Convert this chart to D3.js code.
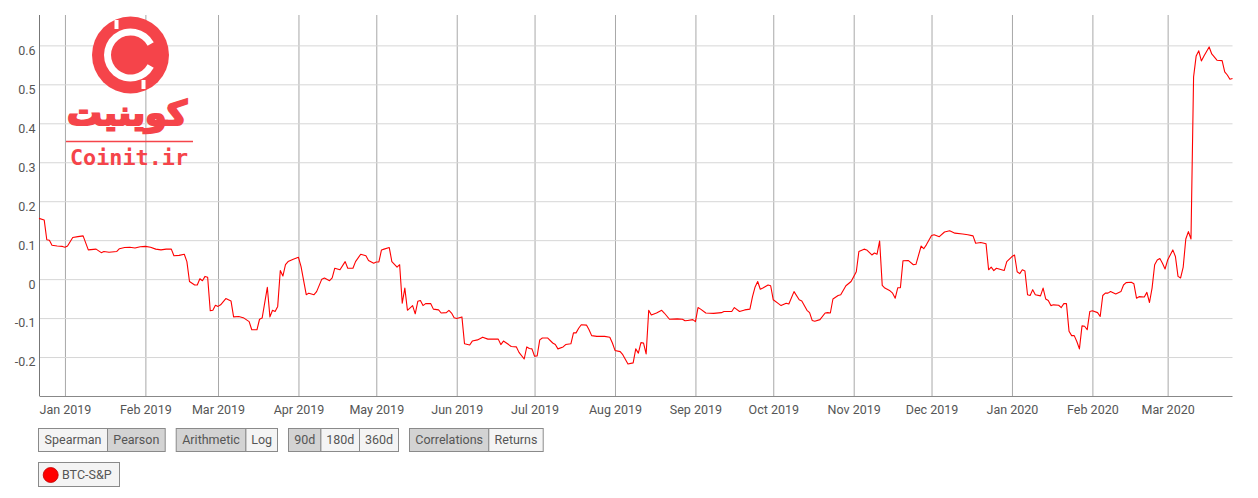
<!DOCTYPE html>
<html>
<head>
<meta charset="utf-8">
<script src="https://cdn.jsdelivr.net/npm/d3@7"></script>
<style>
  html, body { margin: 0; padding: 0; background: #fff; }
  svg { display: block; font-family: Roboto, "Noto Sans", sans-serif; }
</style>
</head>
<body>
<svg id="chart" width="1258" height="498"></svg>
<script>
// ---------- data ----------
const seriesName = "BTC-S&P";
const baseDate = "2019-01-01";
// days since 2019-01-01
const dayOffset = [
  -10,-8,-7,-6,-5,-3,-1,0,1,3,5,7,9,12,14,15,17,20,21,23,25,27,29,31,33,35,37,39,41,42,44,46,47,48,50,51,52,53,54,55,
  56,57,58,59,60,62,64,65,67,69,71,72,74,75,76,78,79,80,81,82,83,84,85,86,88,90,91,93,94,96,97,99,100,102,103,104,106,108,109,111,
  112,114,116,117,119,120,121,122,123,125,126,128,129,130,131,132,134,135,136,137,138,139,141,142,144,145,147,148,149,150,151,153,154,156,157,159,161,163,167,168,
  169,171,172,174,175,177,178,179,180,181,182,183,184,186,188,189,190,192,193,195,196,197,198,199,201,202,203,205,208,210,211,212,214,215,217,219,220,221,222,223,
  224,225,226,228,230,231,233,236,238,239,240,242,243,244,245,247,250,253,254,257,258,260,262,264,265,266,267,268,269,271,272,273,275,276,278,279,281,283,284,286,
  287,288,289,291,293,294,295,296,298,299,301,303,305,306,308,309,311,312,313,314,315,316,318,319,320,321,322,323,325,327,328,330,331,332,334,335,337,339,341,343,
  346,348,350,351,353,355,356,357,358,359,360,362,363,365,366,367,368,369,370,371,372,373,374,376,377,378,379,380,381,383,384,385,386,387,388,389,390,391,392,393,
  394,395,396,398,399,400,401,402,403,405,407,408,409,411,412,413,414,416,417,418,419,420,421,422,423,424,425,427,428,429,430,431,432,433,434,435,436,437,438,439,
  441,442,444,446,447,448,449,450
];
const correlation = [
  0.156,0.152,0.101,0.100,0.087,0.085,0.084,0.082,0.085,0.107,0.109,0.111,0.075,0.077,0.068,0.071,0.069,0.071,0.078,0.081,0.082,0.080,0.083,0.084,0.082,0.077,0.075,0.077,0.077,0.060,0.061,0.064,0.045,-0.006,-0.015,-0.015,0.001,-0.004,0.007,0.005,
  -0.081,-0.080,-0.067,-0.070,-0.066,-0.050,-0.056,-0.097,-0.096,-0.100,-0.109,-0.130,-0.130,-0.103,-0.100,-0.021,-0.097,-0.080,-0.083,-0.070,0.022,0.008,0.037,0.045,0.051,0.056,0.032,-0.040,-0.036,-0.040,-0.032,0.000,0.003,-0.004,0.003,0.028,0.024,0.045,0.028,0.028,
  0.045,0.064,0.060,0.048,0.041,0.044,0.044,0.075,0.077,0.081,0.045,0.031,0.037,-0.062,-0.023,-0.080,-0.068,-0.089,-0.057,-0.055,-0.068,-0.063,-0.063,-0.077,-0.079,-0.087,-0.086,-0.080,-0.087,-0.099,-0.101,-0.097,-0.166,-0.169,-0.159,-0.156,-0.149,-0.154,-0.154,-0.168,
  -0.159,-0.168,-0.173,-0.174,-0.188,-0.205,-0.174,-0.178,-0.179,-0.198,-0.197,-0.156,-0.151,-0.151,-0.164,-0.168,-0.179,-0.174,-0.168,-0.166,-0.138,-0.138,-0.126,-0.117,-0.118,-0.130,-0.145,-0.147,-0.147,-0.149,-0.164,-0.183,-0.186,-0.194,-0.218,-0.215,-0.179,-0.190,-0.163,-0.164,
  -0.192,-0.080,-0.092,-0.087,-0.080,-0.087,-0.103,-0.102,-0.103,-0.107,-0.106,-0.104,-0.109,-0.073,-0.077,-0.087,-0.088,-0.086,-0.083,-0.083,-0.073,-0.083,-0.079,-0.077,-0.045,-0.020,-0.006,-0.026,-0.023,-0.015,-0.017,-0.053,-0.063,-0.068,-0.062,-0.064,-0.032,-0.053,-0.056,-0.080,
  -0.086,-0.106,-0.108,-0.104,-0.087,-0.086,-0.087,-0.051,-0.042,-0.040,-0.017,-0.006,0.019,0.071,0.077,0.075,0.062,0.067,0.064,0.098,-0.016,-0.023,-0.030,-0.036,-0.049,-0.022,-0.022,0.047,0.048,0.037,0.038,0.085,0.078,0.088,0.112,0.114,0.109,0.121,0.124,0.118,
  0.116,0.114,0.111,0.092,0.094,0.091,0.024,0.031,0.022,0.028,0.026,0.022,0.045,0.058,0.062,0.019,0.014,0.024,0.021,-0.040,-0.042,-0.027,-0.040,-0.043,-0.023,-0.051,-0.055,-0.068,-0.066,-0.067,-0.073,-0.063,-0.063,-0.134,-0.145,-0.145,-0.160,-0.179,-0.120,-0.121,
  -0.130,-0.083,-0.081,-0.086,-0.096,-0.042,-0.036,-0.036,-0.032,-0.038,-0.032,-0.015,-0.009,-0.008,-0.012,-0.049,-0.045,-0.046,-0.034,-0.060,-0.023,0.037,0.049,0.053,0.041,0.026,0.049,0.075,0.058,0.007,0.003,0.031,0.103,0.122,0.103,0.519,0.573,0.586,0.560,0.573,
  0.596,0.578,0.562,0.561,0.532,0.524,0.513,0.515
];
const yTicks = [-0.2, -0.1, 0, 0.1, 0.2, 0.3, 0.4, 0.5, 0.6];
const yTickLabels = ["-0.2", "-0.1", "0", "0.1", "0.2", "0.3", "0.4", "0.5", "0.6"];
const xTickDates = ["2019-01-01","2019-02-01","2019-03-01","2019-04-01","2019-05-01","2019-06-01","2019-07-01","2019-08-01",
  "2019-09-01","2019-10-01","2019-11-01","2019-12-01","2020-01-01","2020-02-01","2020-03-01"];
const xTickLabels = ["Jan 2019","Feb 2019","Mar 2019","Apr 2019","May 2019","Jun 2019","Jul 2019","Aug 2019",
  "Sep 2019","Oct 2019","Nov 2019","Dec 2019","Jan 2020","Feb 2020","Mar 2020"];
const buttonGroups = [["Spearman","Pearson"],["Arithmetic","Log"],["90d","180d","360d"],["Correlations","Returns"]];
const selectedButtons = ["Pearson","Arithmetic","90d","Correlations"];

(function draw() {
  const svg = d3.select("#chart");
  const parse = d3.utcParse("%Y-%m-%d");
  const base = parse(baseDate);
  const n = Math.min(dayOffset.length, correlation.length);
  const data = d3.range(n).map(i => ({ date: d3.utcDay.offset(base, dayOffset[i]), value: correlation[i] }));

  const plotL = 39.5, plotR = 1232.5, plotT = 15, plotB = 396;
  const x = d3.scaleUtc().domain(d3.extent(data, d => d.date)).range([plotL - 0.5, plotR]);
  const y = d3.scaleLinear().domain([-0.3, 0.678]).range([plotB, plotT]);

  const textColor = "#555";
  const logoRed = "#f5444a";

  // gridlines
  const xTicks = xTickDates.map(parse);
  svg.append("g").attr("transform", `translate(0,${plotT})`)
    .call(d3.axisBottom(x).tickValues(xTicks).tickSize(plotB - plotT).tickFormat(""))
    .call(g => g.select(".domain").remove())
    .call(g => g.selectAll("line").attr("stroke", "#a8a8a8").attr("stroke-width", 1));

  svg.append("g").attr("transform", `translate(${plotL},0)`)
    .call(d3.axisRight(y).tickValues(yTicks).tickSize(plotR - plotL).tickFormat(""))
    .call(g => g.select(".domain").remove())
    .call(g => g.selectAll("line").attr("stroke", "#d6d6d6").attr("stroke-width", 1));

  // logo watermark
  const logo = svg.append("g").attr("class", "logo");
  const cx = 130.5, cy = 55;
  logo.append("circle").attr("cx", cx).attr("cy", cy).attr("r", 38.5).attr("fill", logoRed);
  logo.append("path")
    .attr("transform", `translate(${cx},${cy})`)
    .attr("d", d3.arc().innerRadius(19.5).outerRadius(26.5)
      .startAngle(Math.PI / 2 + 0.5).endAngle(Math.PI / 2 + 2 * Math.PI - 0.5)())
    .attr("fill", "#fff");
  logo.append("rect").attr("x", cx - 16).attr("y", cy - 35).attr("width", 4).attr("height", 9).attr("fill", "#fff");
  logo.append("rect").attr("x", cx + 11).attr("y", cy + 25).attr("width", 4).attr("height", 9).attr("fill", "#fff");
  logo.append("text").attr("x", 127).attr("y", 125)
    .attr("text-anchor", "middle")
    .attr("font-family", "'DejaVu Sans', sans-serif").attr("font-weight", "bold").attr("font-size", 34)
    .attr("textLength", 120).attr("lengthAdjust", "spacingAndGlyphs")
    .attr("fill", logoRed).attr("stroke", logoRed).attr("stroke-width", 2.2).attr("stroke-linejoin", "miter")
    .text("کوینیت");
  logo.append("line").attr("x1", 66).attr("x2", 193).attr("y1", 141.5).attr("y2", 141.5)
    .attr("stroke", logoRed).attr("stroke-width", 1.5);
  logo.append("text").attr("x", 70).attr("y", 165)
    .attr("font-family", "'DejaVu Sans Mono', monospace").attr("font-weight", "bold").attr("font-size", 22)
    .attr("textLength", 118).attr("lengthAdjust", "spacingAndGlyphs")
    .attr("fill", logoRed).text("Coinit.ir");

  // axes
  svg.append("line").attr("x1", plotL).attr("x2", plotL).attr("y1", plotT).attr("y2", plotB)
    .attr("stroke", "#777").attr("stroke-width", 1);
  svg.append("line").attr("x1", plotL).attr("x2", plotR).attr("y1", plotB + 0.5).attr("y2", plotB + 0.5)
    .attr("stroke", "#888").attr("stroke-width", 1);

  const yAxis = svg.append("g").attr("transform", `translate(${plotL},0)`)
    .call(d3.axisLeft(y).tickValues(yTicks).tickSize(0).tickPadding(4)
      .tickFormat((d, i) => yTickLabels[i]));
  yAxis.select(".domain").remove();
  yAxis.selectAll("text").attr("dy", "0.71em").attr("fill", textColor)
    .attr("font-size", 12.5).attr("font-family", "Roboto, sans-serif");

  const xAxis = svg.append("g").attr("transform", `translate(0,${plotB})`)
    .call(d3.axisBottom(x).tickValues(xTicks).tickSize(0).tickPadding(9)
      .tickFormat((d, i) => xTickLabels[i]));
  xAxis.select(".domain").remove();
  xAxis.selectAll("text").attr("fill", textColor)
    .attr("font-size", 12.5).attr("font-family", "Roboto, sans-serif");

  // series
  svg.append("path").datum(data)
    .attr("fill", "none").attr("stroke", "#ff0000").attr("stroke-width", 1.1)
    .attr("stroke-linejoin", "round")
    .attr("d", d3.line().x(d => x(d.date)).y(d => y(d.value)));

  // buttons (box widths matched to the reference layout)
  const boxWidth = { "Spearman": 69, "Pearson": 57.7, "Arithmetic": 69.7, "Log": 31.6, "90d": 32.4,
    "180d": 38.6, "360d": 39, "Correlations": 79.3, "Returns": 54.4 };
  const btnG = svg.append("g").attr("font-family", "Roboto, sans-serif").attr("font-size", 12.5);
  let bx = 38.5;
  const by = 428.5, bh = 23;
  buttonGroups.forEach(group => {
    group.forEach(label => {
      const w = boxWidth[label];
      btnG.append("rect").attr("x", bx).attr("y", by).attr("width", w).attr("height", bh)
        .attr("fill", selectedButtons.includes(label) ? "#d3d3d3" : "#f4f4f4")
        .attr("stroke", "#8a8a8a").attr("stroke-width", 1);
      btnG.append("text").attr("x", bx + w / 2).attr("y", by + bh / 2).attr("dy", "0.35em")
        .attr("text-anchor", "middle").attr("fill", "#555").text(label);
      bx += w;
    });
    bx += 11;
  });

  // legend
  const lg = svg.append("g");
  lg.append("rect").attr("x", 38.5).attr("y", 462.5).attr("width", 81).attr("height", 24)
    .attr("fill", "#f4f4f4").attr("stroke", "#8a8a8a");
  lg.append("circle").attr("cx", 50.7).attr("cy", 475).attr("r", 7.5)
    .attr("fill", "#ff0000").attr("stroke", "#b00").attr("stroke-width", 0.8);
  lg.append("text").attr("x", 62).attr("y", 475).attr("dy", "0.35em")
    .attr("font-family", "Roboto, sans-serif").attr("font-size", 12.5).attr("fill", "#555").text(seriesName);
})();
</script>
</body>
</html>
